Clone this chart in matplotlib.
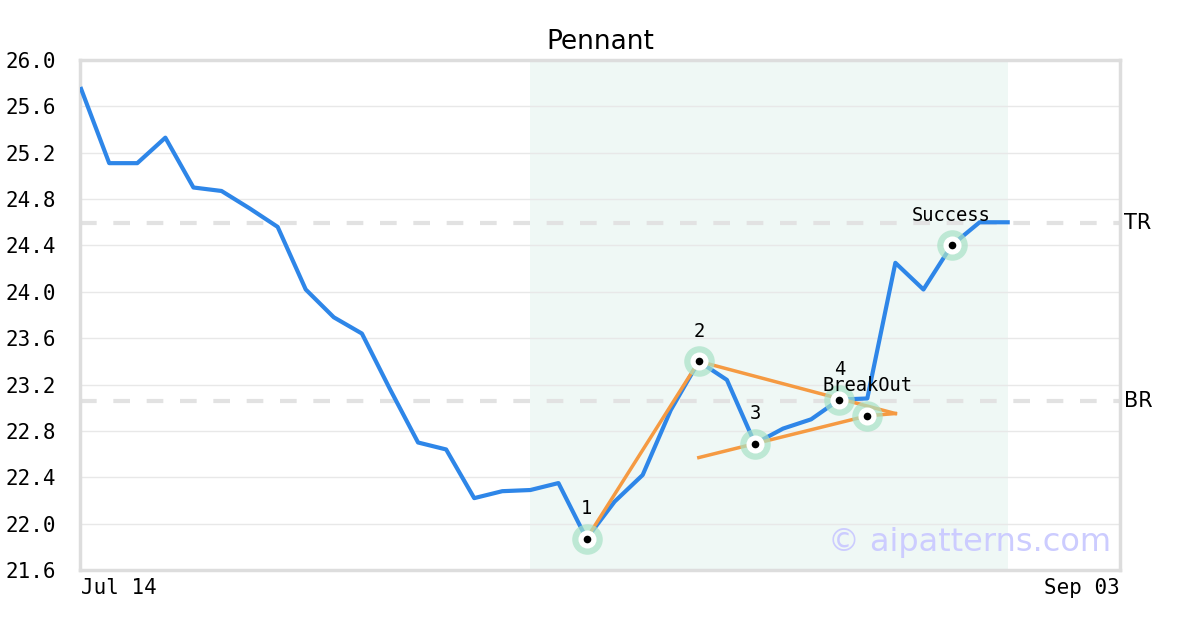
import matplotlib
matplotlib.use("Agg")
import matplotlib.pyplot as plt
import numpy as np

# price series (one point per trading day, index based)
prices = [25.75, 25.11, 25.11, 25.33, 24.90, 24.87, 24.72, 24.56, 24.02, 23.78,
          23.64, 23.16, 22.70, 22.64, 22.22, 22.28, 22.29, 22.35, 21.87, 22.19,
          22.42, 22.98, 23.40, 23.24, 22.69, 22.82, 22.90, 23.07, 23.08, 24.25,
          24.02, 24.40, 24.60, 24.60]
date_labels = ["Jul 14", "Sep 03"]

# pattern window
window = (16, 33.0)

# pattern pivot points
pivot_idx = [18, 22, 24, 27, 28, 31]
pivot_val = [21.87, 23.40, 22.69, 23.07, 22.93, 24.40]
pivot_lbl = ["1", "2", "3", "4", "BreakOut", "Success"]

# orange trend lines
leg_x, leg_y = [18, 22], [21.87, 23.40]
upper_x, upper_y = [22, 29], [23.40, 22.95]
lower_x, lower_y = [22, 24, 28, 29], [22.57, 22.69, 22.93, 22.95]

levels = {"TR": 24.59, "BR": 23.06}
yticks = np.round(np.arange(21.6, 26.01, 0.4), 1)

MONO = "DejaVu Sans Mono"
BLUE = "#2e86e8"
ORANGE = "#f59a42"

fig = plt.figure(figsize=(12, 6.3), dpi=100)
ax = fig.add_axes([80 / 1200, 60 / 630, 1040 / 1200, 510 / 630])

x = np.arange(len(prices))
xmax = 37.0
ax.set_xlim(-0.04, xmax)
ax.set_ylim(21.6, 26.0)

ax.axvspan(window[0], window[1], color="#eff8f5", zorder=0, lw=0)

ax.set_yticks(yticks)
ax.set_yticklabels([f"{v:.1f}" for v in yticks], family=MONO, fontsize=15)
ax.grid(axis="y", color="#e8e8e8", lw=1, zorder=1)
ax.tick_params(axis="both", length=0, pad=17)

ax.set_xticks([0, xmax])
xl = ax.set_xticklabels(date_labels, family=MONO, fontsize=15)
xl[0].set_ha("left")
xl[1].set_ha("right")
ax.tick_params(axis="x", pad=6)

for name, val in levels.items():
    ax.axhline(val, color="#e2e2e2", lw=3, ls=(0, (4, 4)), zorder=1)
    ax.text(1.004, val, name, transform=ax.get_yaxis_transform(), va="center",
            ha="left", fontsize=15, family="DejaVu Sans")

ax.plot(x, prices, color=BLUE, lw=3, zorder=3)

for xs, ys in [(leg_x, leg_y), (upper_x, upper_y), (lower_x, lower_y)]:
    ax.plot(xs, ys, color=ORANGE, lw=2.5, zorder=4)

ax.plot(pivot_idx, pivot_val, "o", ms=22, color="#a8e2c6", alpha=0.7, mec="none", zorder=5)
ax.plot(pivot_idx, pivot_val, "o", ms=13, color="white", mec="none", zorder=6)
ax.plot(pivot_idx, pivot_val, "o", ms=5.5, color="black", mec="none", zorder=7)

for xi, yi, lbl in zip(pivot_idx, pivot_val, pivot_lbl):
    ax.annotate(lbl, (xi, yi), xytext=(0, 21.5), textcoords="offset points",
                ha="center", va="center", family=MONO, fontsize=13.5, zorder=8)

ax.text(0.991, 0.053, "\u00a9 aipatterns.com", transform=ax.transAxes,
        ha="right", va="center", fontsize=23, color="#ccccff", zorder=2)

for s in ax.spines.values():
    s.set_color("#dddddd")
    s.set_linewidth(2.5)

ax.set_title("Pennant", fontsize=19, pad=8)

fig.savefig("out.png", dpi=100)
